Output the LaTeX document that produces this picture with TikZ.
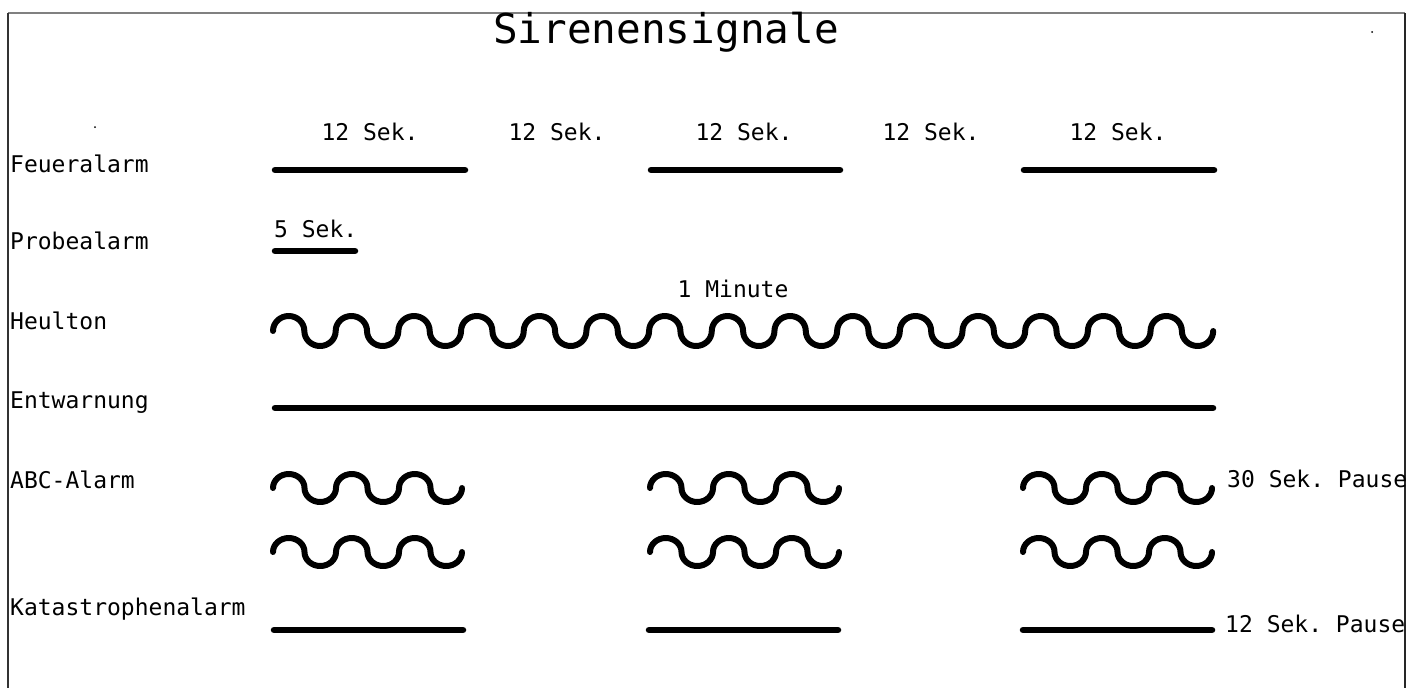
\documentclass[tikz,border=0pt]{standalone}
\usepackage{fontspec}
\setmonofont{DejaVu Sans Mono}
\begin{document}
\begin{tikzpicture}[x=1pt,y=-1pt,
  lbl/.style={inner sep=0pt,font=\ttfamily\fontsize{23}{25}\selectfont},
  ttl/.style={inner sep=0pt,font=\ttfamily\fontsize{41}{44}\selectfont},
  bar/.style={line width=6.5pt,line cap=round},
  wave/.style={line width=6pt,line cap=round,line join=round},
  frame/.style={line width=1.5pt}]
\useasboundingbox (0,0) rectangle (1407,688);
\fill[white] (0,0) rectangle (1407,688);
% frame
\draw[frame,gray] (8,13) -- (1405,13);
\draw[frame,black!80] (8,13) -- (8,688);
\draw[frame,black!85] (1405,13) -- (1405,688);
% title
\node[ttl,anchor=base] (title) at (666,43) {Sirenensignale};
% row labels
\node[lbl,anchor=base west] (feuer) at (10,172) {Feueralarm};
\node[lbl,anchor=base west] (probe) at (10,249) {Probealarm};
\node[lbl,anchor=base west] (heul) at (10,329) {Heulton};
\node[lbl,anchor=base west] (entw) at (10,408) {Entwarnung};
\node[lbl,anchor=base west] (abc) at (10,488) {ABC-Alarm};
\node[lbl,anchor=base west] (kat) at (10,615) {Katastrophenalarm};
% duration labels
\node[lbl,anchor=base] (s1) at (370,140) {12 Sek.};
\node[lbl,anchor=base] (s2) at (557,140) {12 Sek.};
\node[lbl,anchor=base] (s3) at (744,140) {12 Sek.};
\node[lbl,anchor=base] (s4) at (931,140) {12 Sek.};
\node[lbl,anchor=base] (s5) at (1118,140) {12 Sek.};
\node[lbl,anchor=base west] (s6) at (274,237) {5 Sek.};
\node[lbl,anchor=base] (min) at (733,297) {1 Minute};
\node[lbl,anchor=base west] (p30) at (1227,487) {30 Sek. Pause};
\node[lbl,anchor=base west] (p12) at (1225,632) {12 Sek. Pause};
% Feueralarm bars
\draw[bar] (275,170) -- (465,170);
\draw[bar] (651,170) -- (840,170);
\draw[bar] (1024,170) -- (1214,170);
% Probealarm
\draw[bar] (275,251) -- (355,251);
% Heulton
\coordinate (h0) at (273,331);
\draw[wave] (h0) foreach \i in {1,...,15}{
  arc[start angle=180,end angle=0,x radius=15.67pt,y radius=15pt]
  arc[start angle=180,end angle=360,x radius=15.67pt,y radius=15pt]};
% Entwarnung
\draw[bar] (275,408) -- (1213,408);
% ABC-Alarm waves
\foreach \xs/\nm in {273/a,650/b,1023/c}{
  \coordinate (\nm1) at (\xs,488);
  \coordinate (\nm2) at (\xs,552);
  \draw[wave] (\nm1) foreach \i in {1,2,3}{
    arc[start angle=180,end angle=0,x radius=15.75pt,y radius=14pt]
    arc[start angle=180,end angle=360,x radius=15.75pt,y radius=14pt]};
  \draw[wave] (\nm2) foreach \i in {1,2,3}{
    arc[start angle=180,end angle=0,x radius=15.75pt,y radius=14pt]
    arc[start angle=180,end angle=360,x radius=15.75pt,y radius=14pt]};
}
% Katastrophenalarm bars
\draw[bar] (274,630) -- (463,630);
\draw[bar] (649,630) -- (838,630);
\draw[bar] (1023,630) -- (1212,630);
% stray dots
\fill (95,127) circle (1pt);
\fill (1372,32) circle (1pt);
\end{tikzpicture}
\end{document}
